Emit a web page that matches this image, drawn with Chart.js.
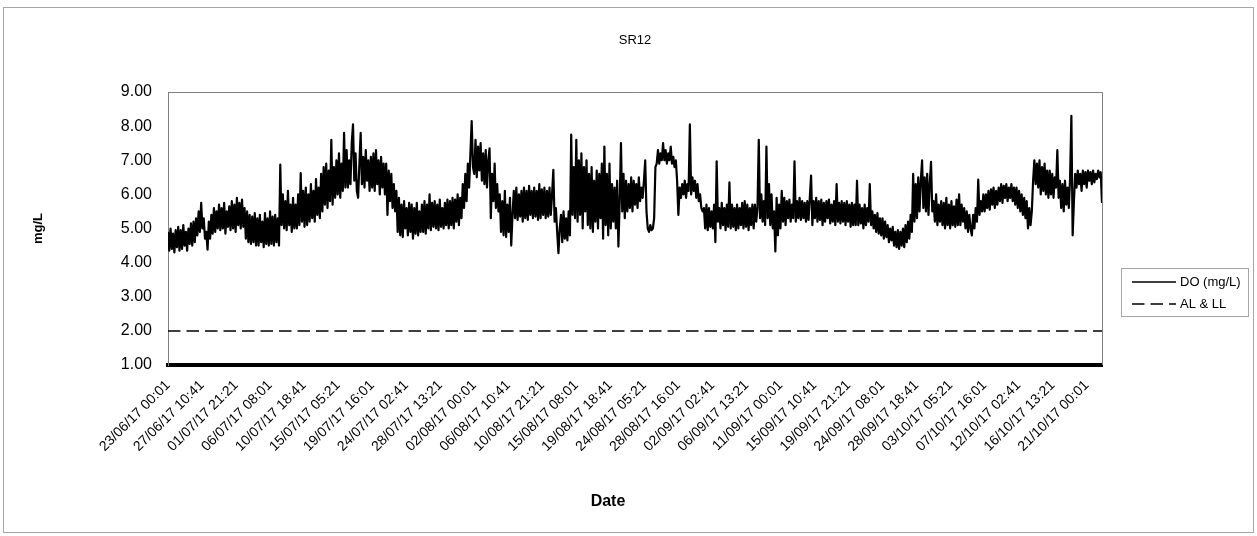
<!DOCTYPE html>
<html>
<head>
<meta charset="utf-8">
<script src="https://cdn.jsdelivr.net/npm/chart.js@4"></script>
<style>
  html, body { margin: 0; padding: 0; background: #fff; overflow: hidden; }
  canvas { display: block; }
</style>
</head>
<body>
<canvas id="chart" width="1257" height="536"></canvas>
<script>
const chartTitle = 'SR12';
const yTitle = 'mg/L';
const xTitle = 'Date';
const seriesNames = ['DO (mg/L)', 'AL & LL'];

// tick labels on the date axis, one every 6400 minutes
const tickLabels = [
    '23/06/17 00:01', '27/06/17 10:41', '01/07/17 21:21', '06/07/17 08:01',
    '10/07/17 18:41', '15/07/17 05:21', '19/07/17 16:01', '24/07/17 02:41',
    '28/07/17 13:21', '02/08/17 00:01', '06/08/17 10:41', '10/08/17 21:21',
    '15/08/17 08:01', '19/08/17 18:41', '24/08/17 05:21', '28/08/17 16:01',
    '02/09/17 02:41', '06/09/17 13:21', '11/09/17 00:01', '15/09/17 10:41',
    '19/09/17 21:21', '24/09/17 08:01', '28/09/17 18:41', '03/10/17 05:21',
    '07/10/17 16:01', '12/10/17 02:41', '16/10/17 13:21', '21/10/17 00:01'
];
const tickStepDays = 6400 / 1440;
const sampleHours = 4;
const axisDays = 122;

// DO readings (mg/L), every ~4 h
const doValues = [
    4.9, 4.35, 5.0, 4.4, 4.85, 4.3, 4.95, 4.45, 5.05, 4.35,
    4.95, 4.4, 5.1, 4.5, 4.9, 4.35, 5.0, 4.55, 5.15, 4.5,
    5.2, 4.6, 5.3, 4.8, 5.5, 4.9, 5.75, 5.0, 5.3, 4.7,
    4.9, 4.38, 5.2, 4.7, 5.4, 4.85, 5.6, 4.9, 5.5, 5.0,
    5.7, 4.95, 5.6, 5.0, 5.75, 4.85, 5.5, 5.05, 5.65, 4.95,
    5.8, 5.0, 5.7, 4.9, 5.9, 5.1, 5.75, 5.0, 5.85, 5.05,
    5.6, 4.7, 5.5, 4.6, 5.4, 4.55, 5.35, 4.6, 5.45, 4.5,
    5.3, 4.5, 5.4, 4.6, 5.2, 4.45, 5.45, 4.55, 5.3, 4.5,
    5.5, 4.55, 5.35, 4.5, 5.4, 4.6, 5.3, 4.5, 6.87, 5.1,
    6.0, 5.0, 5.8, 4.95, 6.1, 5.1, 5.7, 4.9, 5.9, 5.0,
    5.7, 5.0, 6.0, 5.1, 6.62, 5.2, 6.1, 5.05, 6.2, 5.1,
    6.0, 5.2, 6.3, 5.3, 6.1, 5.2, 6.45, 5.4, 6.2, 5.3,
    6.6, 5.5, 6.8, 5.7, 6.9, 5.6, 6.7, 5.8, 7.6, 5.7,
    6.8, 5.9, 7.0, 6.0, 7.2, 5.9, 6.9, 6.1, 7.8, 6.2,
    7.3, 6.2, 7.0, 6.3, 7.5, 8.05, 6.4, 7.2, 6.1, 5.9,
    6.9, 7.8, 6.3, 7.1, 6.2, 7.3, 6.4, 7.0, 6.1, 7.1,
    6.2, 7.2, 6.1, 7.3, 6.3, 7.0, 6.0, 7.1, 6.2, 6.9,
    6.0, 6.9, 5.4, 6.7, 5.8, 6.6, 5.6, 6.3, 5.5, 6.1,
    4.9, 5.9, 4.8, 5.7, 4.75, 5.8, 5.0, 5.6, 4.8, 5.75,
    4.9, 5.7, 4.7, 5.6, 4.85, 5.75, 4.8, 5.5, 4.9, 5.7,
    4.9, 5.8, 4.85, 5.7, 5.0, 6.0, 4.95, 5.75, 5.05, 5.8,
    5.0, 5.7, 4.95, 5.85, 5.05, 5.6, 5.0, 5.75, 5.1, 5.85,
    5.0, 5.8, 5.1, 5.9, 5.0, 5.85, 5.2, 6.0, 5.1, 5.9,
    5.3, 6.3, 5.6, 6.6, 5.8, 6.9, 6.2, 7.2, 8.15, 6.8,
    6.6, 7.6, 6.5, 7.4, 6.7, 7.5, 6.4, 7.2, 6.3, 7.3,
    6.2, 7.0, 7.35, 5.3, 6.6, 5.8, 6.9, 5.6, 6.3, 5.5,
    6.0, 4.9, 5.8, 4.8, 6.1, 4.75, 5.7, 4.9, 5.9, 4.5,
    5.4, 6.1, 5.3, 6.2, 5.25, 6.0, 5.35, 6.1, 5.2, 6.2,
    5.3, 6.1, 5.25, 6.25, 5.4, 6.1, 5.3, 6.2, 5.35, 6.1,
    5.25, 6.3, 5.3, 6.15, 5.4, 6.2, 5.3, 6.1, 5.35, 6.2,
    5.4, 6.0, 6.72, 5.2, 5.6, 4.9, 4.28, 5.0, 5.4, 4.6,
    5.5, 4.7, 5.3, 4.65, 5.5, 4.8, 7.75, 5.4, 6.8, 5.3,
    7.6, 5.2, 7.0, 5.4, 7.2, 5.0, 6.8, 5.5, 7.0, 5.1,
    6.6, 5.0, 6.8, 4.9, 6.4, 5.2, 6.7, 5.0, 6.6, 5.3,
    6.9, 4.7, 7.4, 5.1, 6.6, 4.8, 6.9, 5.0, 6.3, 5.2,
    6.2, 5.0, 6.4, 4.47, 5.8, 7.5, 5.5, 6.6, 5.3, 6.4,
    5.5, 6.3, 5.6, 6.5, 5.5, 6.4, 5.7, 6.3, 5.6, 6.5,
    5.8, 6.2, 5.9, 6.4, 7.0, 5.5, 5.0, 4.9, 5.1, 4.95,
    5.0, 5.3, 6.8, 6.9, 7.3, 6.9, 7.2, 7.0, 7.5, 7.0,
    7.3, 6.9, 7.2, 7.0, 7.4, 6.9, 7.1, 6.8, 7.0, 6.4,
    5.4, 6.2, 5.9, 6.3, 6.0, 6.4, 5.9, 6.3, 6.1, 8.05,
    6.0, 6.5, 6.1, 6.4, 5.9, 6.3, 5.8, 6.0, 5.6, 5.5,
    5.6, 5.0, 5.7, 4.95, 5.6, 5.05, 5.5, 5.0, 5.7, 4.6,
    6.97, 5.2, 5.6, 5.0, 5.75, 5.1, 5.6, 4.95, 5.7, 5.05,
    6.35, 5.0, 5.7, 5.05, 5.6, 4.95, 5.7, 5.0, 5.6, 5.1,
    5.75, 5.0, 5.8, 5.05, 5.7, 4.95, 5.6, 5.1, 5.7, 5.0,
    5.7, 5.2, 5.6, 7.6, 5.3, 6.0, 5.2, 5.8, 5.1, 7.4,
    5.3, 6.3, 5.1, 6.0, 5.0, 5.5, 4.33, 5.9, 4.8, 5.7,
    5.0, 6.1, 5.2, 5.9, 5.1, 5.8, 5.3, 5.85, 5.2, 5.7,
    5.3, 6.97, 5.2, 5.8, 5.3, 5.9, 5.25, 5.8, 5.3, 5.75,
    5.2, 5.8, 5.25, 5.9, 6.55, 5.1, 5.8, 5.3, 5.9, 5.2,
    5.8, 5.25, 5.85, 5.1, 5.75, 5.2, 5.8, 5.3, 5.85, 5.15,
    5.7, 5.2, 5.8, 5.1, 6.3, 5.2, 5.75, 5.15, 5.8, 5.2,
    5.75, 5.1, 5.8, 5.2, 5.7, 5.05, 5.75, 5.1, 5.7, 5.1,
    6.4, 5.1, 5.7, 5.15, 5.6, 5.0, 5.7, 5.1, 5.6, 5.2,
    6.3, 5.1, 5.5, 5.0, 5.4, 4.9, 5.45, 4.85, 5.3, 4.8,
    5.3, 4.7, 5.2, 4.75, 5.1, 4.6, 5.0, 4.65, 5.05, 4.5,
    4.9, 4.45, 4.95, 4.4, 4.9, 4.5, 5.0, 4.45, 5.1, 4.6,
    5.2, 4.7, 5.4, 4.9, 6.6, 5.2, 6.3, 5.3, 6.5, 5.5,
    6.4, 7.0, 5.6, 6.5, 5.5, 6.6, 5.4, 6.3, 6.95, 5.5,
    5.8, 5.2, 6.0, 5.1, 5.7, 5.2, 5.8, 5.1, 5.75, 5.0,
    5.9, 5.1, 5.7, 5.0, 5.8, 5.1, 5.65, 5.05, 5.85, 5.1,
    6.0, 5.1, 5.7, 5.2, 5.6, 5.0, 5.5, 4.9, 5.4, 5.0,
    4.8, 5.4, 5.0, 5.6, 5.2, 6.43, 5.4, 5.8, 5.5, 6.0,
    5.5, 6.0, 5.6, 6.1, 5.55, 6.15, 5.7, 6.2, 5.6, 6.1,
    5.7, 6.2, 5.8, 6.3, 5.75, 6.25, 5.9, 6.3, 5.8, 6.2,
    5.9, 6.3, 5.8, 6.2, 5.7, 6.2, 5.6, 6.1, 5.5, 6.0,
    5.4, 5.9, 5.3, 5.8, 5.0, 5.6, 5.1, 5.5, 6.4, 7.0,
    6.3, 6.9, 6.2, 7.0, 6.0, 6.8, 6.1, 6.9, 6.0, 6.7,
    5.9, 6.7, 6.0, 6.6, 5.9, 6.5, 6.2, 7.3, 5.9, 6.4,
    5.6, 6.3, 5.5, 6.4, 5.7, 6.2, 5.6, 6.5, 8.3, 4.8,
    5.8, 6.6, 6.2, 6.7, 6.3, 6.6, 6.1, 6.7, 6.3, 6.65,
    6.2, 6.7, 6.4, 6.65, 6.3, 6.7, 6.35, 6.6, 6.45, 6.7,
    6.5, 6.65, 5.75
];
// action / lower limit
const limitValues = [2, 2];

const fontFamily = "'Liberation Sans', Arial, sans-serif";
Chart.defaults.font.family = fontFamily;
Chart.defaults.color = '#000';

const doPoints = doValues.map((v, i) => ({ x: i * sampleHours / 24, y: v }));
const limitPoints = limitValues.map((v, i) => ({ x: i * axisDays, y: v }));

// frame, legend box and x title drawn the way the spreadsheet chart has them
const excelLook = {
    id: 'excelLook',
    beforeDraw(chart) {
        const c = chart.ctx;
        c.save();
        c.fillStyle = '#fff';
        c.fillRect(0, 0, chart.width, chart.height);
        c.strokeStyle = '#a6a6a6';
        c.lineWidth = 1;
        c.strokeRect(3.5, 7.5, 1250, 525);
        c.restore();
    },
    afterDraw(chart) {
        const c = chart.ctx;
        const a = chart.chartArea;
        c.save();
        c.strokeStyle = '#808080';
        c.lineWidth = 1;
        c.beginPath();
        c.moveTo(Math.round(a.left), Math.round(a.top) + 0.5);
        c.lineTo(Math.round(a.right) + 0.5, Math.round(a.top) + 0.5);
        c.lineTo(Math.round(a.right) + 0.5, Math.round(a.bottom));
        c.stroke();

        c.fillStyle = '#000';
        c.font = 'bold 16px ' + fontFamily;
        c.textAlign = 'center';
        c.textBaseline = 'middle';
        c.fillText(xTitle, 608, 502);

        // legend
        c.strokeStyle = '#a6a6a6';
        c.strokeRect(1121.5, 268.5, 127, 48);
        c.font = '13px ' + fontFamily;
        c.textAlign = 'left';
        chart.data.datasets.forEach((ds, i) => {
            const y = 282 + i * 22;
            c.strokeStyle = '#000';
            c.lineWidth = 1.5;
            c.setLineDash(ds.borderDash || []);
            c.beginPath();
            c.moveTo(1132, y);
            c.lineTo(1176, y);
            c.stroke();
            c.setLineDash([]);
            c.fillText(ds.label, 1180, y);
        });
        c.restore();
    }
};

const ctx = document.getElementById('chart').getContext('2d');
const myChart = new Chart(ctx, {
    type: 'line',
    data: {
        datasets: [
            {
                label: seriesNames[0],
                data: doPoints,
                borderColor: '#000',
                borderWidth: 2.2,
                borderJoinStyle: 'round',
                pointRadius: 0,
                tension: 0
            },
            {
                label: seriesNames[1],
                data: limitPoints,
                borderColor: '#000',
                borderWidth: 1.5,
                borderDash: [12.5, 6],
                pointRadius: 0
            }
        ]
    },
    options: {
        responsive: false,
        animation: false,
        devicePixelRatio: 1,
        layout: {
            padding: { left: 0, right: 155, top: 0, bottom: 0 }
        },
        plugins: {
            legend: { display: false },
            tooltip: { enabled: false },
            title: {
                display: true,
                fullSize: false,
                text: chartTitle,
                color: '#000',
                font: { size: 13, weight: 'normal' },
                padding: { top: 33, bottom: 43.4 }
            }
        },
        scales: {
            x: {
                type: 'linear',
                min: 0,
                max: axisDays,
                grid: { display: false, drawTicks: false },
                border: { display: true, color: '#000', width: 4 },
                ticks: {
                    autoSkip: false,
                    minRotation: 45,
                    maxRotation: 45,
                    padding: 12,
                    font: { size: 14 },
                    callback: (value, index) => tickLabels[index]
                },
                afterBuildTicks: (axis) => {
                    axis.ticks = tickLabels.map((t, i) => ({ value: i * tickStepDays }));
                },
                afterFit: (axis) => { axis.height = 171; }
            },
            y: {
                min: 1,
                max: 9,
                grid: { display: false, drawTicks: false },
                border: { display: true, color: '#808080', width: 1 },
                ticks: {
                    stepSize: 1,
                    padding: 16,
                    font: { size: 16 },
                    callback: (value) => value.toFixed(2)
                },
                title: {
                    display: true,
                    text: yTitle,
                    font: { size: 13, weight: 'bold' },
                    padding: { top: 31, bottom: 0 }
                },
                afterFit: (axis) => { axis.width = 168; }
            }
        }
    },
    plugins: [excelLook]
});
</script>
</body>
</html>
